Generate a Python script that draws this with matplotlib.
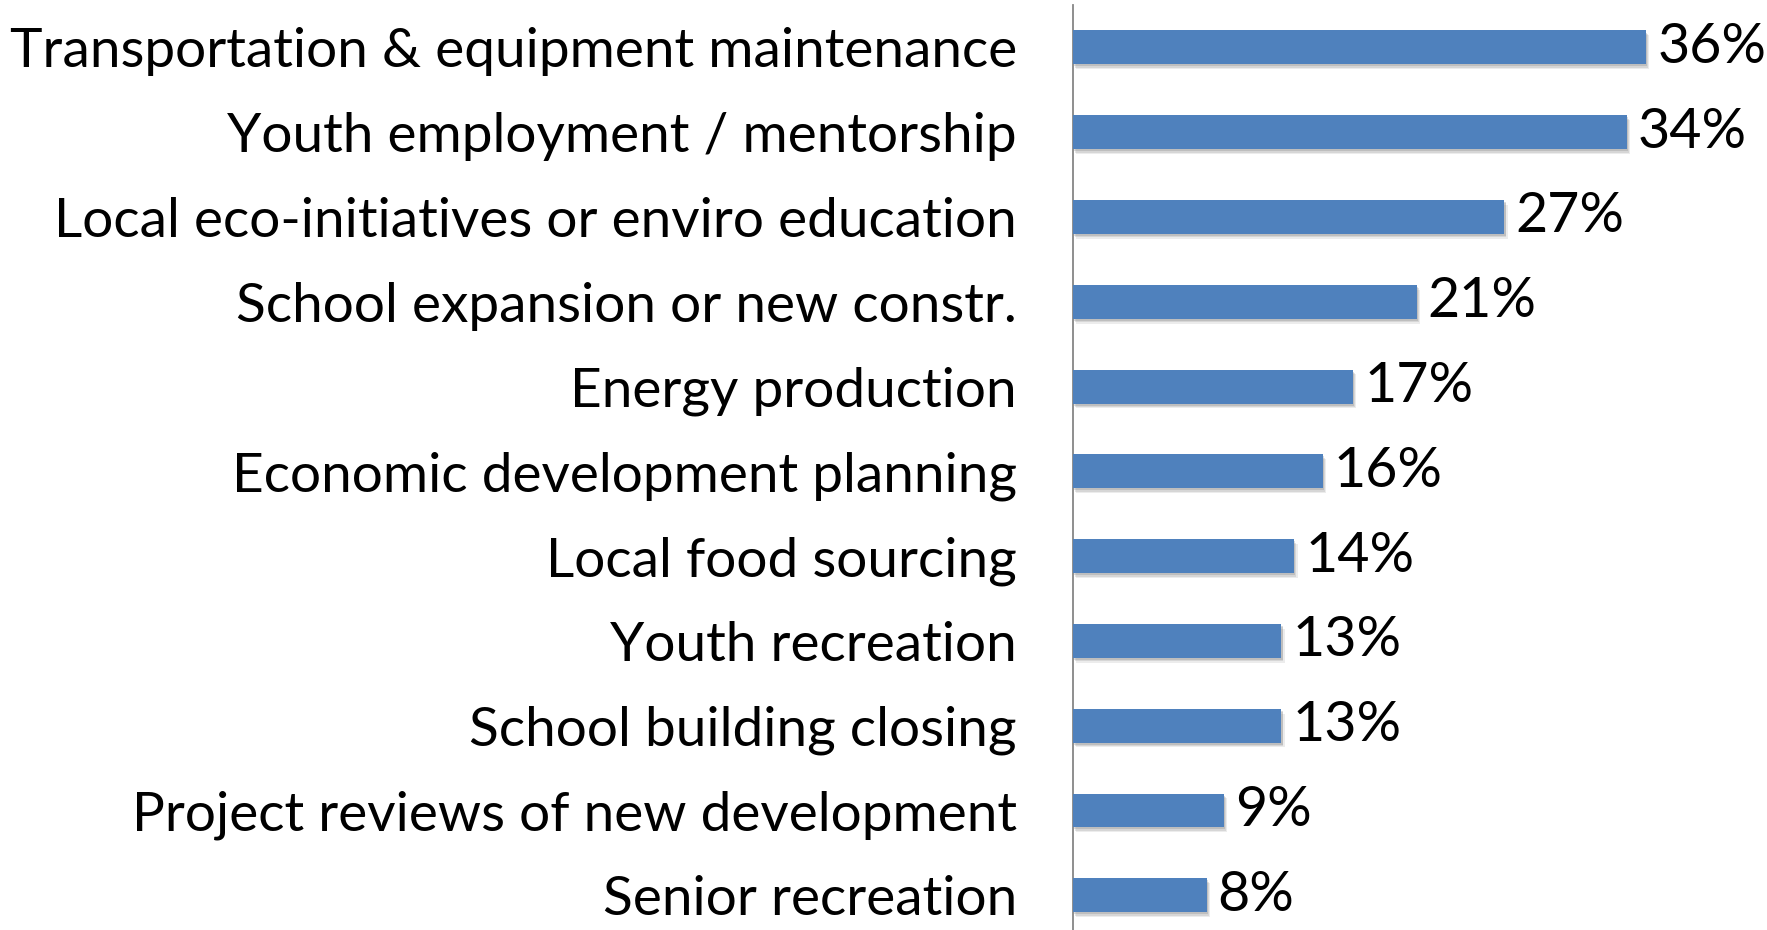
import matplotlib
matplotlib.use("Agg")
import matplotlib.pyplot as plt
import matplotlib.patheffects as pe

categories = [
    "Transportation & equipment maintenance",
    "Youth employment / mentorship",
    "Local eco-initiatives or enviro education",
    "School expansion or new constr.",
    "Energy production",
    "Economic development planning",
    "Local food sourcing",
    "Youth recreation",
    "School building closing",
    "Project reviews of new development",
    "Senior recreation",
]
# bar lengths (percent)
values = [36.0, 34.8, 27.1, 21.6, 17.6, 15.7, 13.9, 13.1, 13.1, 9.5, 8.4]
value_labels = ["36%", "34%", "27%", "21%", "17%", "16%", "14%", "13%", "13%", "9%", "8%"]

plt.rcParams["font.family"] = ["Lato", "DejaVu Sans"]

fig = plt.figure(figsize=(17.67, 9.30), dpi=100)
ax = fig.add_axes([0.6071, 0.0, 0.3929, 0.9946])

pos = list(range(len(categories)))
bars = ax.barh(pos, values, height=0.40, color="#4F81BD", zorder=3)
# soft drop shadow, layered to fake a blur
shadow = [
    pe.SimplePatchShadow(offset=(2.5, -3.5), shadow_rgbFace="#9a9a9a", alpha=0.18),
    pe.SimplePatchShadow(offset=(1.5, -2.5), shadow_rgbFace="#8a8a8a", alpha=0.22),
    pe.SimplePatchShadow(offset=(1, -1.5), shadow_rgbFace="#7a7a7a", alpha=0.25),
    pe.Normal(),
]
for b in bars:
    b.set_path_effects(shadow)

for p, v, lab in zip(pos, values, value_labels):
    ax.text(v + 0.7, p, lab, va="center", ha="left", fontsize=40, color="black")

ax.set_xlim(0, 43.6)
ax.set_ylim(10.41, -0.5)
ax.set_yticks(pos)
ax.set_yticklabels(categories, fontsize=39.6)
ax.tick_params(axis="y", length=0, pad=40.2)
ax.set_xticks([])

for side in ["top", "right", "bottom"]:
    ax.spines[side].set_visible(False)
ax.spines["left"].set_color("#868686")
ax.spines["left"].set_linewidth(1.3)

fig.savefig("out.png", dpi=100)
